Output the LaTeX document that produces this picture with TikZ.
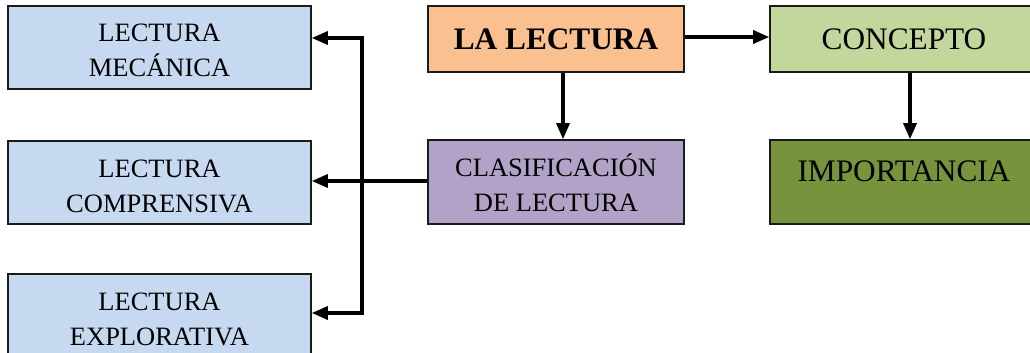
\documentclass[tikz,border=0pt]{standalone}
\usepackage{fontspec}
\setmainfont{Liberation Serif}
\usetikzlibrary{arrows.meta}
\definecolor{cblue}{HTML}{C6D9F1}
\definecolor{corange}{HTML}{FAC090}
\definecolor{clgreen}{HTML}{C3D69B}
\definecolor{cpurple}{HTML}{B2A2C7}
\definecolor{cdgreen}{HTML}{77933C}
\definecolor{cborder}{HTML}{1A1A1A}
\tikzset{
  box/.style={draw=cborder, line width=1.6pt, rectangle, inner sep=0pt, align=center},
  small/.style={font=\fontsize{26.5}{35}\selectfont, text height=59pt, text depth=0pt},
  big/.style={font=\fontsize{31.3}{38}\selectfont},
  arr/.style={line width=3.2pt, -{Triangle[length=16pt,width=13pt]}},
  darr/.style={line width=3.2pt, {Triangle[length=16pt,width=13pt]}-{Triangle[length=16pt,width=13pt]}},
}
\begin{document}
\begin{tikzpicture}[x=1pt,y=-1pt]
\clip (0,0) rectangle (1030,353);
\node[box, small, fill=cblue, minimum width=303, minimum height=83] (mec) at (159.5,47.5) {LECTURA\\MECÁNICA};
\node[box, small, fill=cblue, minimum width=303, minimum height=83] (com) at (159.5,182.5) {LECTURA\\COMPRENSIVA};
\node[box, small, fill=cblue, minimum width=303, minimum height=83] (exp) at (159.5,315.5) {LECTURA\\EXPLORATIVA};
\node[box, big, fill=corange, minimum width=256, minimum height=66] (lect) at (556,39) {\textbf{LA LECTURA}};
\node[box, big, fill=clgreen, minimum width=268, minimum height=66] (conc) at (904,39) {CONCEPTO};
\node[box, small, fill=cpurple, minimum width=256, minimum height=84] (clas) at (556,182) {CLASIFICACIÓN\\DE LECTURA};
\node[box, fill=cdgreen, minimum width=268, minimum height=84] (imp) at (904,182) {};
\node[big, anchor=base] (impt) at (904,181) {IMPORTANCIA};
\coordinate (jt) at (362,38);
\coordinate (jb) at (362,313);
\draw[arr] (lect.east |- 0,37) -- (conc.west |- 0,37);
\draw[arr] ([xshift=7pt]lect.south) -- ([xshift=7pt]clas.north);
\draw[arr] ([xshift=6pt]conc.south) -- ([xshift=6pt]imp.north);
\draw[arr] (clas.west |- 0,181) -- (com.east |- 0,181);
\draw[darr] (mec.east |- jt) -- (jt) -- (jb) -- (exp.east |- jb);
\end{tikzpicture}
\end{document}
